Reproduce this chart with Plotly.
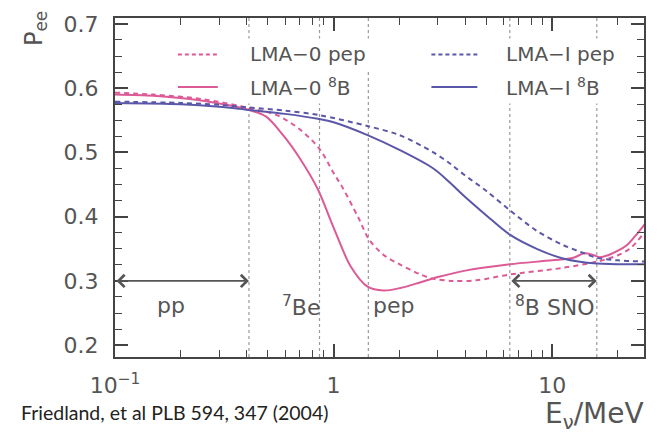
import numpy as np
import plotly.graph_objects as go

# Survival probability P_ee versus neutrino energy (MeV)
e_lma0_8b = [0.1, 0.15, 0.22, 0.3, 0.41, 0.49, 0.59, 0.706, 0.846, 1.0, 1.2, 1.43, 1.69,
             2.02, 2.5, 3.0, 4.0, 6.4, 10, 12.5, 14, 15.5, 16.5, 18, 20, 22, 24, 27]
p_lma0_8b = [0.590, 0.588, 0.583, 0.576, 0.566, 0.556, 0.526, 0.489, 0.443, 0.383, 0.322,
             0.291, 0.285, 0.289, 0.298, 0.306, 0.316, 0.326, 0.332, 0.336, 0.343, 0.340,
             0.337, 0.340, 0.347, 0.356, 0.370, 0.392]

e_lma0_pep = [0.1, 0.15, 0.25, 0.41, 0.55, 0.7, 0.86, 1.0, 1.1, 1.3, 1.45, 1.7, 2.0, 2.5,
              2.8, 3.5, 4.5, 6.4, 11, 16, 20, 23, 27]
p_lma0_pep = [0.593, 0.590, 0.583, 0.569, 0.558, 0.536, 0.506, 0.468, 0.445, 0.398, 0.365,
              0.340, 0.326, 0.310, 0.304, 0.300, 0.301, 0.310, 0.320, 0.330, 0.340, 0.352,
              0.380]

e_lma1_8b = [0.1, 0.2, 0.3, 0.41, 0.6, 0.86, 1.0, 1.43, 2.0, 2.86, 3.43, 3.93, 5.0, 6.4,
             8.5, 11.2, 16, 27]
p_lma1_8b = [0.577, 0.575, 0.571, 0.566, 0.560, 0.552, 0.547, 0.527, 0.504, 0.475, 0.452,
             0.433, 0.402, 0.372, 0.350, 0.335, 0.327, 0.326]

e_lma1_pep = [0.1, 0.2, 0.3, 0.41, 0.6, 0.86, 1.43, 2.0, 2.86, 3.43, 3.93, 5.0, 6.4, 8.5,
              11.2, 14, 16, 20, 27]
p_lma1_pep = [0.579, 0.577, 0.574, 0.570, 0.565, 0.558, 0.541, 0.527, 0.500, 0.482, 0.466,
              0.440, 0.410, 0.378, 0.356, 0.343, 0.336, 0.332, 0.330]

# Solar-neutrino line / spectrum boundaries (MeV)
boundaries = [0.41, 0.862, 1.442, 6.4, 16.0]

# Energy windows marked with arrows
pp_window = [0.1, 0.41]
sno_window = [6.4, 16.0]
arrow_level = 0.30

# Region labels
region_labels = ["pp", "<sup>7</sup>Be", "pep", "<sup>8</sup>B SNO"]
region_label_e = [0.180, 0.706, 1.88, 10.3]
region_label_p = 0.261

x_tick_vals = [0.1, 1, 10]
x_tick_text = ["10<sup>\u22121</sup>", "1", "10"]
y_tick_vals = [0.2, 0.3, 0.4, 0.5, 0.6, 0.7]
y_tick_text = ["0.2", "0.3", "0.4", "0.5", "0.6", "0.7"]

legend_names = ["LMA\u22120 pep", "LMA\u22120 <sup>8</sup>B",
                "LMA\u2212I pep", "LMA\u2212I <sup>8</sup>B"]

PINK = "#dc5a96"
BLUE = "#5b57a8"
GREY_TXT = "#555555"
AXIS = "#444444"
FONT = "DejaVu Sans"

Y_RANGE = [0.1816, 0.7092]
X_RANGE = [-1.0, 1.42]

fig = go.Figure()

# dotted vertical boundaries
for e in boundaries:
    fig.add_trace(go.Scatter(x=[e, e], y=Y_RANGE, mode="lines",
                             line=dict(color="#9a9a9a", width=1.2, dash="dot"),
                             hoverinfo="skip", showlegend=False))

curves = [
    (e_lma0_pep, p_lma0_pep, PINK, "5px,4px"),
    (e_lma0_8b, p_lma0_8b, PINK, "solid"),
    (e_lma1_pep, p_lma1_pep, BLUE, "5px,4px"),
    (e_lma1_8b, p_lma1_8b, BLUE, "solid"),
]
for (ex, py, col, dash), name in zip(curves, legend_names):
    fig.add_trace(go.Scatter(x=ex, y=py, mode="lines", name=name,
                             line=dict(color=col, width=2, dash=dash,
                                       shape="spline", smoothing=0.9),
                             showlegend=False))

annotations = []
# double-headed arrows
for lo, hi in (pp_window, sno_window):
    annotations.append(dict(
        x=np.log10(hi), y=arrow_level, ax=np.log10(lo), ay=arrow_level,
        xref="x", yref="y", axref="x", ayref="y", text="",
        showarrow=True, arrowside="end+start", arrowhead=4, startarrowhead=4,
        arrowsize=1.5, startarrowsize=1.5, arrowwidth=1.6, arrowcolor="#555555",
        standoff=0, startstandoff=0))

for lab, e in zip(region_labels, region_label_e):
    annotations.append(dict(x=np.log10(e), y=region_label_p, xref="x", yref="y",
                            text=lab, showarrow=False, xanchor="center", yanchor="middle",
                            font=dict(family=FONT, size=22, color=GREY_TXT)))

# hand-made legend (2 x 2)
PW, PH, L, B = 530, 344, 115, 76
def px(x):
    return (x - L) / PW
def py_(y):
    return (433 - B - y) / PH

legend_rows = [50, 83]
legend_cols = [(178, 218, 246), (432, 478, 503)]
legend_styles = [(PINK, "dash"), (PINK, "solid"), (BLUE, "dash"), (BLUE, "solid")]
shapes = []
for i, name in enumerate(legend_names):
    c0, c1, ct = legend_cols[i // 2]
    ry = legend_rows[i % 2]
    col, dash = legend_styles[i]
    shapes.append(dict(type="line", xref="paper", yref="paper",
                       x0=px(c0), x1=px(c1), y0=py_(ry), y1=py_(ry),
                       line=dict(color=col, width=2, dash="4px,3px" if dash == "dash" else "solid"),
                       layer="above"))
    annotations.append(dict(x=px(ct), y=py_(ry), xref="paper", yref="paper", text=name,
                            showarrow=False, xanchor="left", yanchor="middle",
                            bgcolor="white", borderpad=3,
                            font=dict(family=FONT, size=20, color=GREY_TXT)))

# axis titles and citation
annotations.append(dict(x=px(36), y=py_(24), xref="paper", yref="paper",
                        text="P<sub>ee</sub>", textangle=-90, showarrow=False,
                        xanchor="center", yanchor="middle",
                        font=dict(family=FONT, size=24, color=GREY_TXT)))
annotations.append(dict(x=px(647), y=py_(416), xref="paper", yref="paper",
                        text="E<sub>\u03bd</sub>/MeV", showarrow=False,
                        xanchor="right", yanchor="middle",
                        font=dict(family=FONT, size=28, color=GREY_TXT)))
annotations.append(dict(x=px(19), y=py_(413), xref="paper", yref="paper",
                        text="Friedland, et al PLB 594, 347 (2004)", showarrow=False,
                        xanchor="left", yanchor="middle",
                        font=dict(family="Lato", size=19.5, color="#222222")))

x_minor = [m * d for d in (0.1, 1, 10) for m in range(2, 10) if m * d < 27]

fig.update_layout(
    width=658, height=433,
    margin=dict(l=L, r=658 - L - PW, t=433 - B - PH, b=B),
    paper_bgcolor="white", plot_bgcolor="white",
    showlegend=False,
    annotations=annotations, shapes=shapes,
    font=dict(family=FONT, color=GREY_TXT),
)
fig.update_xaxes(type="log", range=X_RANGE, showgrid=False, zeroline=False,
                 showline=True, linecolor=AXIS, linewidth=2, mirror="allticks",
                 ticks="inside", ticklen=13, tickwidth=1.5, tickcolor=AXIS,
                 tickmode="array", tickvals=x_tick_vals, ticktext=x_tick_text,
                 tickfont=dict(family=FONT, size=22, color=GREY_TXT),
                 ticklabelstandoff=8,
                 minor=dict(tickmode="array", tickvals=x_minor, ticks="inside",
                            ticklen=7, tickwidth=1.2, tickcolor=AXIS, showgrid=False))
fig.update_yaxes(range=Y_RANGE, showgrid=False, zeroline=False,
                 showline=True, linecolor=AXIS, linewidth=2, mirror="allticks",
                 ticks="inside", ticklen=13, tickwidth=1.5, tickcolor=AXIS,
                 tickmode="array", tickvals=y_tick_vals, ticktext=y_tick_text,
                 tickfont=dict(family=FONT, size=22, color=GREY_TXT),
                 ticklabelstandoff=10,
                 minor=dict(tickmode="linear", tick0=0.2, dtick=0.025, ticks="inside",
                            ticklen=7, tickwidth=1.2, tickcolor=AXIS, showgrid=False))

fig.write_html("out.html")
